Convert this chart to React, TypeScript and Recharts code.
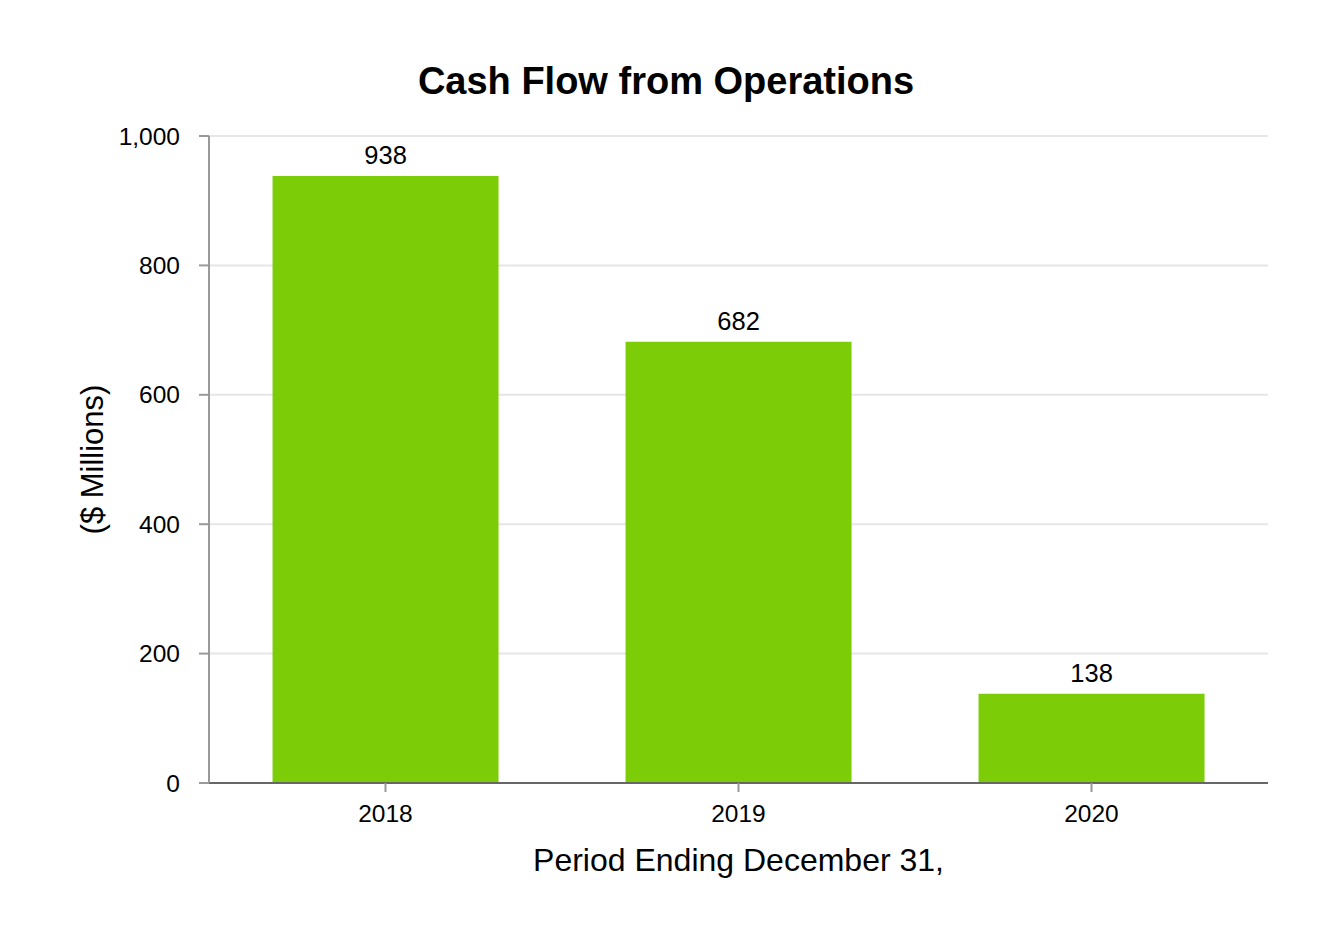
import React from "react";
import { Bar, BarChart, CartesianGrid, LabelList, XAxis, YAxis } from "recharts";

const years = ["2018", "2019", "2020"];
const cashFlow = [938, 682, 138];
const yTicks = [0, 200, 400, 600, 800, 1000];

const data = years.map((year, i) => ({ year, value: cashFlow[i] }));

const FONT = "'Liberation Sans', Arial, sans-serif";

export default function App() {
	return (
		<div style={{ position: "relative", width: 1316, height: 920, fontFamily: FONT, background: "#fff" }}>
			<div
				style={{
					position: "absolute",
					top: 52,
					left: 0,
					width: 1316,
					textAlign: "center",
					fontSize: 38,
					fontWeight: "bold",
					color: "#000",
				}}
			>
				Cash Flow from Operations
			</div>
			<BarChart
				width={1316}
				height={920}
				data={data}
				margin={{ top: 128, right: 56, left: 0, bottom: 0 }}
				barCategoryGap="18%"
			>
				<CartesianGrid vertical={false} stroke="#e6e6e6" strokeWidth={2} />
				<XAxis
					dataKey="year"
					height={145}
					axisLine={{ stroke: "#666", strokeWidth: 2 }}
					tickLine={{ stroke: "#999", strokeWidth: 2 }}
					tickSize={9}
					tickMargin={13}
					tick={{ fill: "#000", fontSize: 24.5, fontFamily: FONT }}
					label={{
						value: "Period Ending December 31,",
						position: "insideBottom",
						offset: 57,
						fill: "#000",
						fontSize: 32,
						fontFamily: FONT,
					}}
				/>
				<YAxis
					width={201}
					domain={[0, 1000]}
					ticks={yTicks}
					tickFormatter={(v: number) => v.toLocaleString("en-US")}
					axisLine={{ stroke: "#999", strokeWidth: 2 }}
					tickLine={{ stroke: "#999", strokeWidth: 2 }}
					tickSize={10}
					tickMargin={19}
					tick={{ fill: "#000", fontSize: 24.5, fontFamily: FONT }}
					label={{
						value: "($ Millions)",
						angle: -90,
						position: "insideLeft",
						offset: 84,
						fill: "#000",
						fontSize: 31,
						fontFamily: FONT,
						style: { textAnchor: "middle" },
					}}
				/>
				<Bar dataKey="value" fill="#7ccd08" isAnimationActive={false}>
					<LabelList dataKey="value" position="top" offset={12} fill="#000" fontSize={25.5} fontFamily={FONT} />
				</Bar>
			</BarChart>
		</div>
	);
}
